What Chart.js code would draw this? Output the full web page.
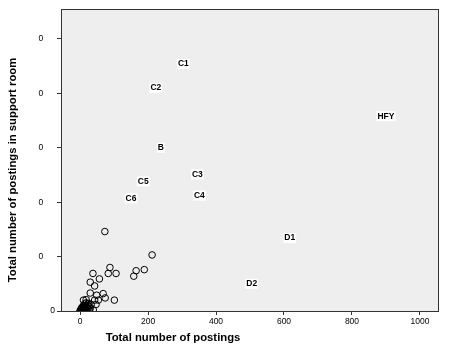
<!DOCTYPE html>
<html>
<head>
<meta charset="utf-8">
<script src="https://cdn.jsdelivr.net/npm/chart.js@4"></script>
<style>
  body { margin: 0; background: #fff; }
  #wrap { width: 452px; height: 362px; }
</style>
</head>
<body>
<div id="wrap"><canvas id="myChart" width="452" height="362"></canvas></div>
<script>
// labelled groups (text only, no marker)
const groupNames = ["C1", "C2", "HFY", "B", "C3", "C5", "C4", "C6", "D1", "D2"];
const groupX = [304, 223, 900, 238, 345, 186, 351, 150, 617, 505];
const groupY = [454, 410, 358, 300, 251, 238, 212, 207, 134, 50];

// individual users (open circles)
const userX = [73, 212, 88, 83, 106, 38, 165, 158, 189, 57, 30, 43, 30, 68, 49, 74, 101, 54, 43, 18, 10, 47, 33, 39,
  0, 2, 4, 5, 6, 8, 8, 10, 12, 12, 14, 15, 16, 18, 20, 22, 24, 26, 28, 3, 7, 10, 13, 18, 20, 25, 1, 5, 9, 15, 30];
const userY = [146, 103, 80, 69, 69, 69, 74, 64, 76, 59, 53, 46, 33, 32, 29, 24, 20, 20, 20, 21, 20, 12, 12, 2,
  0, 1, 2, 0, 3, 1, 5, 2, 4, 8, 6, 1, 10, 3, 7, 12, 4, 9, 2, 4, 7, 10, 13, 15, 0, 14, 1, 6, 0, 3, 5];

const xTicks = [0, 200, 400, 600, 800, 1000];
const yTicks = [0, 100, 200, 300, 400, 500];
const yTickLabels = ["0", "0", "0", "0", "0", "0"];

const xTitle = "Total number of postings";
const yTitle = "Total number of postings in support room";

const FONT = "'Liberation Sans', Arial, sans-serif";

const framePlugin = {
  id: "frame",
  beforeDraw(chart) {
    const a = chart.chartArea, ctx = chart.ctx;
    ctx.save();
    ctx.fillStyle = "#eeeeee";
    ctx.fillRect(a.left, a.top, a.right - a.left, a.bottom - a.top);
    ctx.restore();
  },
  afterDraw(chart) {
    const a = chart.chartArea, ctx = chart.ctx;
    ctx.save();
    ctx.strokeStyle = "#333";
    ctx.lineWidth = 1;
    ctx.strokeRect(a.left + 0.5, a.top + 0.5, a.right - a.left - 1, a.bottom - a.top);

    // group labels
    const meta = chart.getDatasetMeta(1);
    ctx.font = "bold 8.5px " + FONT;
    ctx.textAlign = "center";
    ctx.textBaseline = "middle";
    meta.data.forEach(function (p, i) {
      const t = groupNames[i];
      const w = ctx.measureText(t).width;
      ctx.fillStyle = "#fff";
      ctx.fillRect(p.x - w / 2 - 1, p.y - 5, w + 2, 10);
      ctx.fillStyle = "#000";
      ctx.fillText(t, p.x, p.y);
    });

    // axis titles
    ctx.font = "bold 11.3px " + FONT;
    ctx.fillStyle = "#000";
    ctx.textAlign = "center";
    ctx.fillText(xTitle, 173, 338);
    ctx.translate(13, 170);
    ctx.rotate(-Math.PI / 2);
    ctx.fillText(yTitle, 0, 0);
    ctx.restore();
  }
};

new Chart(document.getElementById("myChart"), {
  type: "scatter",
  data: {
    datasets: [{
      label: "users",
      data: userX.map(function (x, i) { return { x: x, y: userY[i] }; }),
      pointStyle: "circle",
      pointRadius: 3.3,
      borderColor: "#000",
      borderWidth: 1,
      backgroundColor: "rgba(0,0,0,0)"
    }, {
      label: "groups",
      data: groupX.map(function (x, i) { return { x: x, y: groupY[i] }; }),
      pointRadius: 0
    }]
  },
  options: {
    responsive: false,
    animation: false,
    layout: { padding: { top: 9, right: 13 } },
    plugins: { legend: { display: false }, tooltip: { enabled: false } },
    scales: {
      x: {
        type: "linear",
        min: -56,
        max: 1056,
        afterBuildTicks: function (s) { s.ticks = xTicks.map(function (v) { return { value: v }; }); },
        afterFit: function (s) { s.height = 51; },
        grid: { drawOnChartArea: false, drawTicks: true, tickLength: 4, color: "#333" },
        border: { display: false },
        ticks: {
          font: { size: 8.5, family: FONT }, color: "#000", padding: 2, maxRotation: 0,
          callback: function (v) { return String(v); }
        }
      },
      y: {
        type: "linear",
        min: 0,
        max: 555,
        afterBuildTicks: function (s) { s.ticks = yTicks.map(function (v) { return { value: v }; }); },
        afterFit: function (s) { s.width = 61; },
        grid: { drawOnChartArea: false, drawTicks: true, tickLength: 4, color: "#333" },
        border: { display: false },
        ticks: {
          font: { size: 8.5, family: FONT }, color: "#000", padding: 2,
          callback: function (v, i) { return i === 0 ? yTickLabels[i] : yTickLabels[i] + "     "; }
        }
      }
    }
  },
  plugins: [framePlugin]
});
</script>
</body>
</html>
